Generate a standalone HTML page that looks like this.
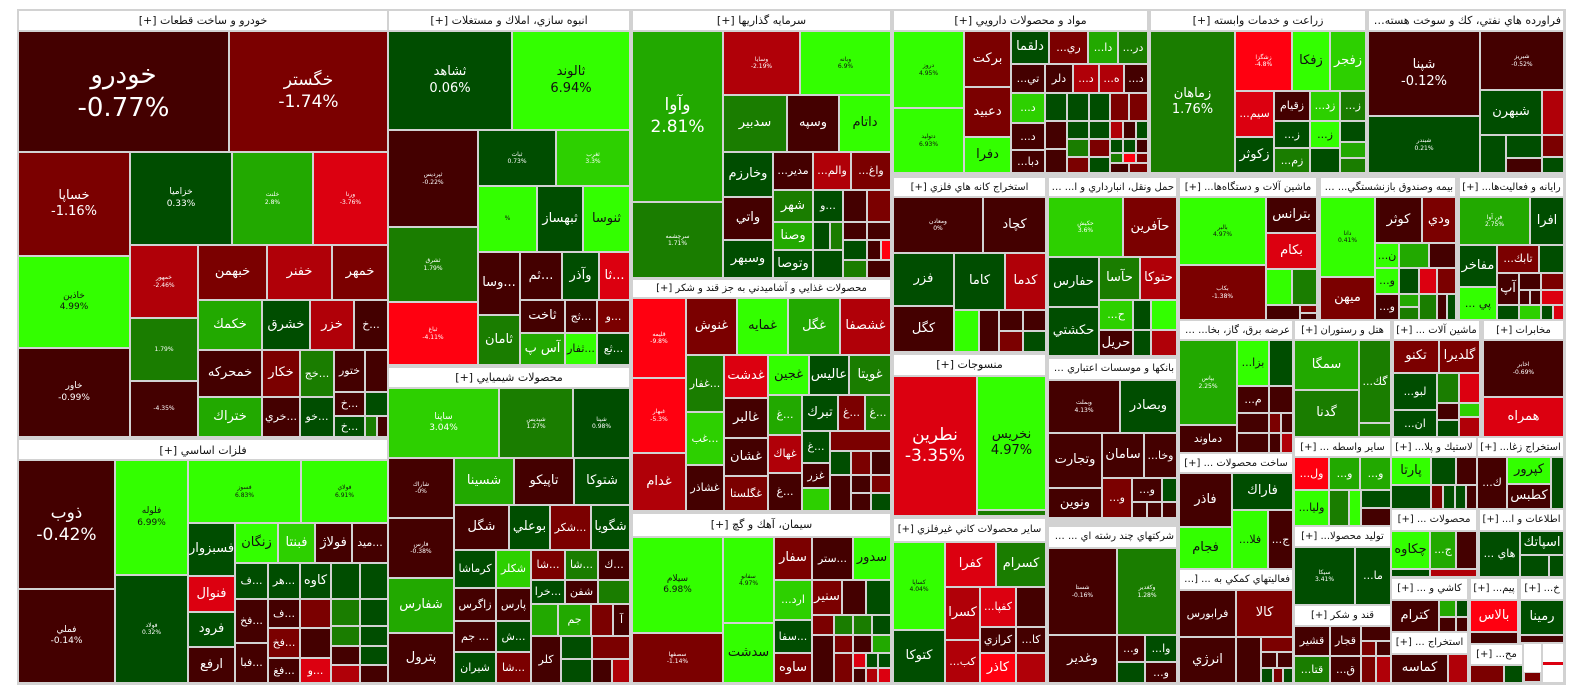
<!DOCTYPE html>
<html><head><meta charset="utf-8">
<style>
body{margin:0;width:1584px;height:698px;background:#fff;position:relative;overflow:hidden;font-family:"DejaVu Sans","Liberation Sans",sans-serif}
#bg{position:absolute;left:17px;top:9px;width:1549px;height:676px;background:#d2d2d2}
.c{position:absolute;box-sizing:border-box;border:1px solid #d2d2d2;display:flex;align-items:center;justify-content:center;text-align:center;color:#fff;font-size:13px;line-height:1.25;overflow:hidden;white-space:nowrap}
.h{background:#fff;color:#111;font-size:11px;direction:rtl;display:block;line-height:19px;text-overflow:ellipsis;padding:0 2px}
.n{font-size:10px}
.s{font-size:6px}.t{font-size:9px}.m{font-size:11px}.b{font-size:17px}.x{font-size:26px}
.d{background:#440000}.r1{background:#7b0000}.r2{background:#b00008}.r3{background:#dc0010}.r4{background:#ff0010}
.g1{background:#004d00}.g2{background:#1a7d00}.g3{background:#22a900}.g4{background:#2dd000}.g5{background:#33ff00;color:#111}
.w{background:#fff}
</style></head><body>
<div id="bg"></div>

<!-- headers -->
<div class="c h" style="left:18px;top:10px;width:370px;height:21px">خودرو و ساخت قطعات [+]</div>
<div class="c h" style="left:388px;top:10px;width:242px;height:21px">انبوه سازي، املاك و مستغلات [+]</div>
<div class="c h" style="left:632px;top:10px;width:259px;height:21px">سرمايه گذاريها [+]</div>
<div class="c h" style="left:893px;top:10px;width:255px;height:21px">مواد و محصولات دارويي [+]</div>
<div class="c h" style="left:1150px;top:10px;width:216px;height:21px">زراعت و خدمات وابسته [+]</div>
<div class="c h" style="left:1368px;top:10px;width:196px;height:21px">فراورده هاي نفتي، كك و سوخت هسته اي [+]</div>
<div class="c h" style="left:18px;top:439px;width:370px;height:21px;line-height:21px">فلزات اساسي [+]</div>
<div class="c h" style="left:388px;top:367px;width:242px;height:21px">محصولات شيميايي [+]</div>
<div class="c h n" style="left:632px;top:279px;width:259px;height:19px;line-height:17px">محصولات غذايي و آشاميدني به جز قند و شكر [+]</div>
<div class="c h" style="left:632px;top:513px;width:259px;height:24px;line-height:22px">سيمان، آهك و گچ [+]</div>
<div class="c h n" style="left:893px;top:177px;width:153px;height:20px">استخراج كانه هاي فلزي [+]</div>
<div class="c h" style="left:893px;top:354px;width:153px;height:22px;line-height:20px">منسوجات [+]</div>
<div class="c h n" style="left:893px;top:518px;width:153px;height:24px;line-height:22px">ساير محصولات كاني غيرفلزي [+]</div>
<div class="c h n" style="left:1048px;top:177px;width:129px;height:20px">حمل ونقل، انبارداري و ا... [+]</div>
<div class="c h n" style="left:1048px;top:358px;width:129px;height:22px;line-height:20px">بانكها و موسسات اعتباري [+]</div>
<div class="c h n" style="left:1048px;top:526px;width:129px;height:22px;line-height:20px">شركتهاي چند رشته اي ... [+]</div>
<div class="c h n" style="left:1179px;top:177px;width:138px;height:20px">ماشين آلات و دستگاه‌ها... [+]</div>
<div class="c h n" style="left:1320px;top:177px;width:136px;height:20px">بيمه وصندوق بازنشستگي... [+]</div>
<div class="c h n" style="left:1459px;top:177px;width:105px;height:20px">رايانه و فعاليت‌ها... [+]</div>
<div class="c h n" style="left:1179px;top:320px;width:114px;height:20px">عرضه برق، گاز، بخا... [+]</div>
<div class="c h n" style="left:1179px;top:453px;width:114px;height:20px">ساخت محصولات ... [+]</div>
<div class="c h n" style="left:1179px;top:569px;width:114px;height:21px">فعاليتهاي كمكي به ... [+]</div>
<div class="c h n" style="left:1294px;top:320px;width:97px;height:20px">هتل و رستوران [+]</div>
<div class="c h n" style="left:1294px;top:437px;width:97px;height:20px">ساير واسطه ... [+]</div>
<div class="c h n" style="left:1294px;top:526px;width:97px;height:21px">توليد محصولا... [+]</div>
<div class="c h n" style="left:1294px;top:605px;width:97px;height:21px">قند و شكر [+]</div>
<div class="c h n" style="left:1393px;top:320px;width:87px;height:20px">ماشين آلات ... [+]</div>
<div class="c h n" style="left:1483px;top:320px;width:81px;height:20px">مخابرات [+]</div>
<div class="c h n" style="left:1391px;top:437px;width:86px;height:20px">لاستيك و پلا... [+]</div>
<div class="c h n" style="left:1477px;top:437px;width:87px;height:20px">استخراج زغا... [+]</div>
<div class="c h n" style="left:1391px;top:509px;width:86px;height:22px;line-height:20px">محصولات ... [+]</div>
<div class="c h n" style="left:1479px;top:509px;width:85px;height:22px;line-height:20px">اطلاعات و ا... [+]</div>
<div class="c h n" style="left:1391px;top:578px;width:77px;height:22px;line-height:20px">كاشي و ... [+]</div>
<div class="c h n" style="left:1470px;top:578px;width:48px;height:22px;line-height:20px">پيم... [+]</div>
<div class="c h n" style="left:1520px;top:578px;width:44px;height:22px;line-height:20px">خ... [+]</div>
<div class="c h n" style="left:1391px;top:632px;width:77px;height:22px;line-height:20px">استخراج ... [+]</div>
<div class="c h n" style="left:1470px;top:644px;width:53px;height:21px">مح... [+]</div>

<!-- خودرو -->
<div class="c d x" style="left:18px;top:31px;width:211px;height:121px">خودرو<br>-0.77%</div>
<div class="c r1 b" style="left:229px;top:31px;width:159px;height:121px">خگستر<br>-1.74%</div>
<div class="c r1" style="left:18px;top:152px;width:112px;height:104px">خساپا<br>-1.16%</div>
<div class="c g5 t" style="left:18px;top:256px;width:112px;height:92px">خاذين<br>4.99%</div>
<div class="c d t" style="left:18px;top:348px;width:112px;height:89px">خاور<br>-0.99%</div>
<div class="c g1 t" style="left:130px;top:152px;width:102px;height:93px">خزاميا<br>0.33%</div>
<div class="c g3 s" style="left:232px;top:152px;width:81px;height:93px">خلنت<br>2.8%</div>
<div class="c r3 s" style="left:313px;top:152px;width:75px;height:93px">ورنا<br>-3.76%</div>
<div class="c r2 s" style="left:130px;top:245px;width:68px;height:73px">خمهور<br>-2.46%</div>
<div class="c g2 s" style="left:130px;top:318px;width:68px;height:63px">1.79%</div>
<div class="c d s" style="left:130px;top:381px;width:68px;height:56px">-4.35%</div>
<div class="c r1" style="left:198px;top:245px;width:69px;height:55px">خبهمن</div>
<div class="c r2" style="left:267px;top:245px;width:65px;height:55px">خفنر</div>
<div class="c r1" style="left:332px;top:245px;width:56px;height:55px">خمهر</div>
<div class="c g3" style="left:198px;top:300px;width:64px;height:50px">خكمك</div>
<div class="c g1" style="left:262px;top:300px;width:48px;height:50px">خشرق</div>
<div class="c r2" style="left:310px;top:300px;width:44px;height:50px">خزر</div>
<div class="c d m" style="left:354px;top:300px;width:34px;height:50px">خ...</div>
<div class="c d" style="left:198px;top:350px;width:64px;height:47px">خمحركه</div>
<div class="c g3" style="left:198px;top:397px;width:64px;height:40px">ختراك</div>
<div class="c r1" style="left:262px;top:350px;width:38px;height:47px">خكار</div>
<div class="c d m" style="left:262px;top:397px;width:38px;height:40px">خري...</div>
<div class="c g2 m" style="left:300px;top:350px;width:34px;height:47px">خج...</div>
<div class="c g1 m" style="left:300px;top:397px;width:34px;height:40px">خو...</div>
<div class="c d m" style="left:334px;top:350px;width:31px;height:42px">ختور</div>
<div class="c d m" style="left:334px;top:392px;width:31px;height:24px">خ...</div>
<div class="c g1 m" style="left:334px;top:416px;width:31px;height:21px">خ...</div>
<div class="c d" style="left:365px;top:350px;width:23px;height:42px"></div>
<div class="c g1" style="left:365px;top:392px;width:23px;height:24px"></div>
<div class="c g2" style="left:365px;top:416px;width:12px;height:21px"></div>
<div class="c d" style="left:377px;top:416px;width:11px;height:21px"></div>

<!-- فلزات -->
<div class="c d b" style="left:18px;top:460px;width:97px;height:129px">ذوب<br>-0.42%</div>
<div class="c d t" style="left:18px;top:589px;width:97px;height:94px">فملي<br>-0.14%</div>
<div class="c g5 t" style="left:115px;top:460px;width:73px;height:115px">فلوله<br>6.99%</div>
<div class="c g1 s" style="left:115px;top:575px;width:73px;height:108px">فولاد<br>0.32%</div>
<div class="c g5 s" style="left:188px;top:460px;width:113px;height:63px">فسوز<br>6.83%</div>
<div class="c g5 s" style="left:301px;top:460px;width:87px;height:63px">فولاي<br>6.91%</div>
<div class="c g1" style="left:188px;top:523px;width:47px;height:53px">فسبزوار</div>
<div class="c g5" style="left:235px;top:523px;width:43px;height:40px">زنگان</div>
<div class="c g4" style="left:278px;top:523px;width:37px;height:40px">فبنتا</div>
<div class="c d" style="left:315px;top:523px;width:37px;height:40px">فولاژ</div>
<div class="c d m" style="left:352px;top:523px;width:36px;height:40px">ميد...</div>
<div class="c r3" style="left:188px;top:576px;width:47px;height:36px">فنوال</div>
<div class="c g1" style="left:188px;top:612px;width:47px;height:35px">فرود</div>
<div class="c d" style="left:188px;top:647px;width:47px;height:36px">ارفع</div>
<div class="c g1 m" style="left:235px;top:563px;width:33px;height:36px">ف...</div>
<div class="c g1 m" style="left:268px;top:563px;width:32px;height:36px">هر...</div>
<div class="c g1" style="left:300px;top:563px;width:31px;height:36px">كاوه</div>
<div class="c g1" style="left:331px;top:563px;width:29px;height:36px"></div>
<div class="c g1" style="left:360px;top:563px;width:28px;height:36px"></div>
<div class="c d m" style="left:235px;top:599px;width:33px;height:44px">فخ...</div>
<div class="c d m" style="left:235px;top:643px;width:33px;height:40px">فبا...</div>
<div class="c d m" style="left:268px;top:599px;width:32px;height:29px">ف...</div>
<div class="c r1 m" style="left:268px;top:628px;width:32px;height:30px">فخ...</div>
<div class="c d m" style="left:268px;top:658px;width:32px;height:25px">فغ...</div>
<div class="c r1" style="left:300px;top:599px;width:31px;height:29px"></div>
<div class="c d" style="left:300px;top:628px;width:31px;height:30px"></div>
<div class="c r3 m" style="left:300px;top:658px;width:31px;height:25px">و...</div>
<div class="c g2" style="left:331px;top:599px;width:29px;height:27px"></div>
<div class="c g2" style="left:331px;top:626px;width:29px;height:20px"></div>
<div class="c d" style="left:331px;top:646px;width:29px;height:19px"></div>
<div class="c r2" style="left:331px;top:665px;width:29px;height:18px"></div>
<div class="c g1" style="left:360px;top:599px;width:28px;height:27px"></div>
<div class="c g1" style="left:360px;top:626px;width:28px;height:20px"></div>
<div class="c g1" style="left:360px;top:646px;width:28px;height:19px"></div>
<div class="c d" style="left:360px;top:665px;width:28px;height:18px"></div>

<!-- انبوه -->
<div class="c g1" style="left:388px;top:31px;width:124px;height:99px">ثشاهد<br>0.06%</div>
<div class="c g5" style="left:512px;top:31px;width:118px;height:99px">ثالوند<br>6.94%</div>
<div class="c d s" style="left:388px;top:130px;width:90px;height:97px">ثپرديس<br>-0.22%</div>
<div class="c g2 s" style="left:388px;top:227px;width:90px;height:75px">ثشرق<br>1.79%</div>
<div class="c r4 s" style="left:388px;top:302px;width:90px;height:63px">ثباغ<br>-4.11%</div>
<div class="c g1 s" style="left:478px;top:130px;width:78px;height:56px">ثبات<br>0.73%</div>
<div class="c g4 s" style="left:556px;top:130px;width:74px;height:56px">ثغرب<br>3.3%</div>
<div class="c g5 s" style="left:478px;top:186px;width:59px;height:66px">%</div>
<div class="c g1" style="left:537px;top:186px;width:46px;height:66px">ثبهساز</div>
<div class="c g5" style="left:583px;top:186px;width:47px;height:66px">ثنوسا</div>
<div class="c d" style="left:478px;top:252px;width:42px;height:63px">وسا...</div>
<div class="c d" style="left:520px;top:252px;width:42px;height:48px">ثم...</div>
<div class="c g1" style="left:562px;top:252px;width:37px;height:48px">وآذر</div>
<div class="c r3" style="left:599px;top:252px;width:31px;height:48px">ثا...</div>
<div class="c g2" style="left:478px;top:315px;width:42px;height:50px">ثامان</div>
<div class="c d" style="left:520px;top:300px;width:45px;height:33px">ثاخت</div>
<div class="c d m" style="left:565px;top:300px;width:32px;height:33px">ثج...</div>
<div class="c r1 m" style="left:597px;top:300px;width:33px;height:33px">و...</div>
<div class="c g3" style="left:520px;top:333px;width:45px;height:32px">آس پ</div>
<div class="c g5 m" style="left:565px;top:333px;width:32px;height:32px">ثفار...</div>
<div class="c g1 m" style="left:597px;top:333px;width:33px;height:32px">ثع...</div>

<!-- شيميايي -->
<div class="c g4 t" style="left:388px;top:388px;width:111px;height:70px">ساپنا<br>3.04%</div>
<div class="c g2 s" style="left:499px;top:388px;width:74px;height:70px">شپديس<br>1.27%</div>
<div class="c g1 s" style="left:573px;top:388px;width:57px;height:70px">شپنا<br>0.98%</div>
<div class="c d s" style="left:388px;top:458px;width:66px;height:60px">شاراك<br>-0%</div>
<div class="c d s" style="left:388px;top:518px;width:66px;height:60px">فارس<br>-0.38%</div>
<div class="c g3" style="left:388px;top:578px;width:66px;height:55px">شفارس</div>
<div class="c d" style="left:388px;top:633px;width:66px;height:50px">پترول</div>
<div class="c g3" style="left:454px;top:458px;width:60px;height:47px">شسينا</div>
<div class="c d" style="left:514px;top:458px;width:60px;height:47px">تاپيكو</div>
<div class="c g1" style="left:574px;top:458px;width:56px;height:47px">شتوكا</div>
<div class="c d" style="left:454px;top:505px;width:55px;height:45px">شگل</div>
<div class="c g1" style="left:509px;top:505px;width:41px;height:45px">بوعلي</div>
<div class="c r1 m" style="left:550px;top:505px;width:41px;height:45px">شكر...</div>
<div class="c g1" style="left:591px;top:505px;width:39px;height:45px">شگويا</div>
<div class="c g1 m" style="left:454px;top:550px;width:42px;height:38px">كرماشا</div>
<div class="c g4 m" style="left:496px;top:550px;width:35px;height:38px">شكلر</div>
<div class="c r1 m" style="left:531px;top:550px;width:34px;height:30px">شا...</div>
<div class="c g2 m" style="left:565px;top:550px;width:33px;height:30px">شا...</div>
<div class="c d m" style="left:598px;top:550px;width:32px;height:30px">ك...</div>
<div class="c d m" style="left:454px;top:588px;width:42px;height:33px">زاگرس</div>
<div class="c d m" style="left:496px;top:588px;width:35px;height:33px">پارس</div>
<div class="c d m" style="left:454px;top:621px;width:42px;height:31px">جم ...</div>
<div class="c g1 m" style="left:496px;top:621px;width:35px;height:31px">ش...</div>
<div class="c g1 m" style="left:454px;top:652px;width:42px;height:31px">شيران</div>
<div class="c r1 m" style="left:496px;top:652px;width:35px;height:31px">شا...</div>
<div class="c g1 m" style="left:531px;top:580px;width:34px;height:24px">خرا...</div>
<div class="c d m" style="left:565px;top:580px;width:33px;height:24px">شفن</div>
<div class="c g2" style="left:598px;top:580px;width:32px;height:24px"></div>
<div class="c g3" style="left:531px;top:604px;width:27px;height:32px"></div>
<div class="c g3 m" style="left:558px;top:604px;width:33px;height:32px">جم</div>
<div class="c r1" style="left:591px;top:604px;width:22px;height:32px"></div>
<div class="c d m" style="left:613px;top:604px;width:17px;height:32px">آ</div>
<div class="c d m" style="left:531px;top:636px;width:30px;height:47px">كلر</div>
<div class="c g1" style="left:561px;top:636px;width:31px;height:23px"></div>
<div class="c r1" style="left:592px;top:636px;width:38px;height:23px"></div>
<div class="c g1" style="left:561px;top:659px;width:31px;height:24px"></div>
<div class="c d" style="left:592px;top:659px;width:20px;height:24px"></div>
<div class="c r2" style="left:612px;top:659px;width:18px;height:24px"></div>

<!-- سرمايه -->
<div class="c g3 b" style="left:632px;top:31px;width:91px;height:171px">وآوا<br>2.81%</div>
<div class="c g2 s" style="left:632px;top:202px;width:91px;height:76px">سرچشمه<br>1.71%</div>
<div class="c r2 s" style="left:723px;top:31px;width:77px;height:64px">وسايا<br>-2.19%</div>
<div class="c g5 s" style="left:800px;top:31px;width:91px;height:64px">وبانه<br>6.9%</div>
<div class="c g2" style="left:723px;top:95px;width:64px;height:57px">سدبير</div>
<div class="c d" style="left:787px;top:95px;width:52px;height:57px">وسپه</div>
<div class="c g5" style="left:839px;top:95px;width:52px;height:57px">داتام</div>
<div class="c g1" style="left:723px;top:152px;width:50px;height:45px">وخارزم</div>
<div class="c d" style="left:723px;top:197px;width:50px;height:43px">واتي</div>
<div class="c g1" style="left:723px;top:240px;width:50px;height:38px">وسبهر</div>
<div class="c d m" style="left:773px;top:152px;width:40px;height:38px">...مدير</div>
<div class="c r2 m" style="left:813px;top:152px;width:38px;height:38px">...والم</div>
<div class="c r1 m" style="left:851px;top:152px;width:40px;height:38px">...واغ</div>
<div class="c g2" style="left:773px;top:190px;width:40px;height:32px">شهر</div>
<div class="c g1 m" style="left:813px;top:190px;width:30px;height:32px">و...</div>
<div class="c d" style="left:843px;top:190px;width:24px;height:32px"></div>
<div class="c r1" style="left:867px;top:190px;width:24px;height:32px"></div>
<div class="c g3" style="left:773px;top:222px;width:40px;height:28px">وصنا</div>
<div class="c g1" style="left:773px;top:250px;width:40px;height:28px">وتوصا</div>
<div class="c g1" style="left:813px;top:222px;width:17px;height:28px"></div>
<div class="c g2" style="left:830px;top:222px;width:13px;height:28px"></div>
<div class="c d" style="left:843px;top:222px;width:24px;height:18px"></div>
<div class="c d" style="left:867px;top:222px;width:24px;height:18px"></div>
<div class="c g1" style="left:843px;top:240px;width:24px;height:20px"></div>
<div class="c d" style="left:867px;top:240px;width:14px;height:20px"></div>
<div class="c r4" style="left:881px;top:240px;width:10px;height:20px"></div>
<div class="c g1" style="left:813px;top:250px;width:30px;height:28px"></div>
<div class="c g2" style="left:843px;top:260px;width:24px;height:18px"></div>
<div class="c d" style="left:867px;top:260px;width:24px;height:18px"></div>

<!-- غذايي -->
<div class="c r4 s" style="left:632px;top:298px;width:54px;height:80px">قليمه<br>-9.8%</div>
<div class="c r4 s" style="left:632px;top:378px;width:54px;height:75px">غبهار<br>-5.3%</div>
<div class="c r2" style="left:632px;top:453px;width:54px;height:58px">غدام</div>
<div class="c r1" style="left:686px;top:298px;width:51px;height:57px">غنوش</div>
<div class="c g5" style="left:737px;top:298px;width:51px;height:57px">غمايه</div>
<div class="c g3" style="left:788px;top:298px;width:52px;height:57px">غگل</div>
<div class="c r2" style="left:840px;top:298px;width:51px;height:57px">غشصفا</div>
<div class="c g2 m" style="left:686px;top:355px;width:38px;height:57px">غفار...</div>
<div class="c g4 m" style="left:686px;top:412px;width:38px;height:53px">غب...</div>
<div class="c d m" style="left:686px;top:465px;width:38px;height:46px">غشاذر</div>
<div class="c r3" style="left:724px;top:355px;width:44px;height:43px">غدشت</div>
<div class="c d" style="left:724px;top:398px;width:44px;height:40px">غالبر</div>
<div class="c d" style="left:724px;top:438px;width:44px;height:38px">غشان</div>
<div class="c r1 m" style="left:724px;top:476px;width:44px;height:35px">غگلستا</div>
<div class="c g5" style="left:768px;top:355px;width:41px;height:40px">غجين</div>
<div class="c g1" style="left:809px;top:355px;width:40px;height:40px">عاليس</div>
<div class="c g2" style="left:849px;top:355px;width:42px;height:40px">غويتا</div>
<div class="c g3 m" style="left:768px;top:395px;width:34px;height:40px">غ...</div>
<div class="c r2 m" style="left:768px;top:435px;width:34px;height:38px">غهاك</div>
<div class="c d m" style="left:768px;top:473px;width:34px;height:38px">غ...</div>
<div class="c g1" style="left:802px;top:395px;width:36px;height:36px">تبرك</div>
<div class="c r1 m" style="left:838px;top:395px;width:27px;height:36px">غ...</div>
<div class="c g2 m" style="left:865px;top:395px;width:26px;height:36px">غ...</div>
<div class="c g1 m" style="left:802px;top:431px;width:28px;height:32px">غ...</div>
<div class="c r1" style="left:830px;top:431px;width:61px;height:20px"></div>
<div class="c g1" style="left:830px;top:451px;width:21px;height:24px"></div>
<div class="c r1" style="left:851px;top:451px;width:20px;height:24px"></div>
<div class="c d" style="left:871px;top:451px;width:20px;height:24px"></div>
<div class="c d m" style="left:802px;top:463px;width:28px;height:25px">غزر</div>
<div class="c g4" style="left:802px;top:488px;width:28px;height:23px"></div>
<div class="c d" style="left:830px;top:475px;width:21px;height:36px"></div>
<div class="c d" style="left:851px;top:475px;width:20px;height:18px"></div>
<div class="c r1" style="left:871px;top:475px;width:20px;height:18px"></div>
<div class="c d" style="left:851px;top:493px;width:20px;height:18px"></div>
<div class="c g1" style="left:871px;top:493px;width:20px;height:18px"></div>

<!-- سيمان -->
<div class="c g5 t" style="left:632px;top:537px;width:91px;height:96px">سيلام<br>6.98%</div>
<div class="c r1 s" style="left:632px;top:633px;width:91px;height:50px">سصفها<br>-1.14%</div>
<div class="c g5 s" style="left:723px;top:537px;width:51px;height:86px">سفانو<br>4.97%</div>
<div class="c g5" style="left:723px;top:623px;width:51px;height:60px">سدشت</div>
<div class="c r1" style="left:774px;top:537px;width:38px;height:43px">سفار</div>
<div class="c d m" style="left:812px;top:537px;width:41px;height:43px">ستر...</div>
<div class="c g5" style="left:853px;top:537px;width:38px;height:43px">سدور</div>
<div class="c g4 m" style="left:774px;top:580px;width:38px;height:40px">...ارد</div>
<div class="c r1" style="left:812px;top:580px;width:30px;height:35px">سنير</div>
<div class="c d" style="left:842px;top:580px;width:24px;height:35px"></div>
<div class="c g1" style="left:866px;top:580px;width:25px;height:35px"></div>
<div class="c g1 m" style="left:774px;top:620px;width:38px;height:33px">سفا...</div>
<div class="c r1" style="left:774px;top:653px;width:38px;height:30px">ساوه</div>
<div class="c r1" style="left:812px;top:615px;width:22px;height:20px"></div>
<div class="c g2" style="left:834px;top:615px;width:19px;height:20px"></div>
<div class="c g2" style="left:853px;top:615px;width:19px;height:20px"></div>
<div class="c g1" style="left:872px;top:615px;width:19px;height:20px"></div>
<div class="c d" style="left:812px;top:635px;width:22px;height:48px"></div>
<div class="c r1" style="left:834px;top:635px;width:19px;height:18px"></div>
<div class="c d" style="left:853px;top:635px;width:19px;height:18px"></div>
<div class="c g3" style="left:872px;top:635px;width:19px;height:18px"></div>
<div class="c r1" style="left:834px;top:653px;width:19px;height:30px"></div>
<div class="c r3" style="left:853px;top:653px;width:13px;height:15px"></div>
<div class="c g1" style="left:866px;top:653px;width:12px;height:15px"></div>
<div class="c g1" style="left:878px;top:653px;width:13px;height:15px"></div>
<div class="c d" style="left:853px;top:668px;width:13px;height:15px"></div>
<div class="c r2" style="left:866px;top:668px;width:12px;height:15px"></div>
<div class="c r3" style="left:878px;top:668px;width:13px;height:15px"></div>

<!-- دارويي -->
<div class="c g5 s" style="left:893px;top:31px;width:71px;height:77px">دروز<br>4.95%</div>
<div class="c g5 s" style="left:893px;top:108px;width:71px;height:65px">دتوليد<br>6.93%</div>
<div class="c r1" style="left:964px;top:31px;width:47px;height:56px">بركت</div>
<div class="c r1" style="left:964px;top:87px;width:47px;height:50px">دعبيد</div>
<div class="c g5" style="left:964px;top:137px;width:47px;height:36px">دفرا</div>
<div class="c g1" style="left:1011px;top:31px;width:38px;height:33px">دلقما</div>
<div class="c r1 m" style="left:1049px;top:31px;width:39px;height:33px">...ري</div>
<div class="c g3 m" style="left:1088px;top:31px;width:30px;height:33px">...دا</div>
<div class="c g2 m" style="left:1118px;top:31px;width:30px;height:33px">...در</div>
<div class="c d m" style="left:1011px;top:64px;width:34px;height:29px">...تي</div>
<div class="c d m" style="left:1045px;top:64px;width:28px;height:29px">دلر</div>
<div class="c r2 m" style="left:1073px;top:64px;width:26px;height:29px">...د</div>
<div class="c r2 m" style="left:1099px;top:64px;width:25px;height:29px">...ه</div>
<div class="c d m" style="left:1124px;top:64px;width:24px;height:29px">...د</div>
<div class="c g4 m" style="left:1011px;top:93px;width:34px;height:30px">...د</div>
<div class="c d m" style="left:1011px;top:123px;width:34px;height:27px">...د</div>
<div class="c d m" style="left:1011px;top:150px;width:34px;height:23px">...دبا</div>
<div class="c g1" style="left:1045px;top:93px;width:22px;height:28px"></div>
<div class="c g1" style="left:1067px;top:93px;width:22px;height:28px"></div>
<div class="c g1" style="left:1089px;top:93px;width:21px;height:28px"></div>
<div class="c r1" style="left:1110px;top:93px;width:19px;height:28px"></div>
<div class="c r1" style="left:1129px;top:93px;width:19px;height:28px"></div>
<div class="c d" style="left:1045px;top:121px;width:22px;height:28px"></div>
<div class="c d" style="left:1045px;top:149px;width:22px;height:24px"></div>
<div class="c g1" style="left:1067px;top:121px;width:22px;height:18px"></div>
<div class="c g2" style="left:1067px;top:139px;width:22px;height:18px"></div>
<div class="c r1" style="left:1067px;top:157px;width:22px;height:16px"></div>
<div class="c g1" style="left:1089px;top:121px;width:21px;height:18px"></div>
<div class="c r1" style="left:1089px;top:139px;width:21px;height:18px"></div>
<div class="c g1" style="left:1089px;top:157px;width:21px;height:16px"></div>
<div class="c r2" style="left:1110px;top:121px;width:13px;height:18px"></div>
<div class="c d" style="left:1123px;top:121px;width:13px;height:18px"></div>
<div class="c g1" style="left:1136px;top:121px;width:12px;height:18px"></div>
<div class="c g1" style="left:1110px;top:139px;width:13px;height:14px"></div>
<div class="c g1" style="left:1123px;top:139px;width:13px;height:14px"></div>
<div class="c d" style="left:1136px;top:139px;width:12px;height:14px"></div>
<div class="c g2" style="left:1110px;top:153px;width:13px;height:10px"></div>
<div class="c r4" style="left:1123px;top:153px;width:13px;height:10px"></div>
<div class="c r1" style="left:1136px;top:153px;width:12px;height:10px"></div>
<div class="c d" style="left:1110px;top:163px;width:19px;height:10px"></div>
<div class="c r1" style="left:1129px;top:163px;width:19px;height:10px"></div>

<!-- زراعت -->
<div class="c g2" style="left:1150px;top:31px;width:85px;height:142px">زماهان<br>1.76%</div>
<div class="c r4 s" style="left:1235px;top:31px;width:57px;height:60px">زشگزا<br>-4.8%</div>
<div class="c g5" style="left:1292px;top:31px;width:38px;height:60px">زفكا</div>
<div class="c g4" style="left:1330px;top:31px;width:36px;height:60px">زفجر</div>
<div class="c r3 m" style="left:1235px;top:91px;width:39px;height:46px">...سيم</div>
<div class="c g1" style="left:1235px;top:137px;width:39px;height:36px">زكوثر</div>
<div class="c d m" style="left:1274px;top:91px;width:36px;height:30px">زقيام</div>
<div class="c g4 m" style="left:1310px;top:91px;width:30px;height:30px">...زد</div>
<div class="c g2 m" style="left:1340px;top:91px;width:26px;height:30px">...ز</div>
<div class="c g1 m" style="left:1274px;top:121px;width:36px;height:27px">...ز</div>
<div class="c g5 m" style="left:1310px;top:121px;width:30px;height:27px">...ز</div>
<div class="c g1" style="left:1340px;top:121px;width:26px;height:21px"></div>
<div class="c g2 m" style="left:1274px;top:148px;width:36px;height:25px">...زم</div>
<div class="c g1" style="left:1310px;top:148px;width:30px;height:25px"></div>
<div class="c g3" style="left:1340px;top:142px;width:26px;height:16px"></div>
<div class="c g2" style="left:1340px;top:158px;width:26px;height:15px"></div>

<!-- فراورده -->
<div class="c d" style="left:1368px;top:31px;width:112px;height:85px">شپنا<br>-0.12%</div>
<div class="c g1 s" style="left:1368px;top:116px;width:112px;height:57px">شبندر<br>0.21%</div>
<div class="c d s" style="left:1480px;top:31px;width:84px;height:59px">شبريز<br>-0.52%</div>
<div class="c g1" style="left:1480px;top:90px;width:62px;height:45px">شبهرن</div>
<div class="c r2" style="left:1542px;top:90px;width:22px;height:45px"></div>
<div class="c g1" style="left:1480px;top:135px;width:26px;height:38px"></div>
<div class="c g1" style="left:1506px;top:135px;width:36px;height:23px"></div>
<div class="c d" style="left:1506px;top:158px;width:36px;height:15px"></div>
<div class="c r1" style="left:1542px;top:135px;width:22px;height:22px"></div>
<div class="c g1" style="left:1542px;top:157px;width:22px;height:16px"></div>

<!-- استخراج كانه -->
<div class="c d s" style="left:893px;top:197px;width:90px;height:56px">ومعادن<br>0%</div>
<div class="c d" style="left:983px;top:197px;width:63px;height:56px">كچاد</div>
<div class="c g1" style="left:893px;top:253px;width:61px;height:53px">فزر</div>
<div class="c g1" style="left:954px;top:253px;width:51px;height:57px">كاما</div>
<div class="c r2" style="left:1005px;top:253px;width:41px;height:57px">كدما</div>
<div class="c d" style="left:893px;top:306px;width:61px;height:46px">كگل</div>
<div class="c g5" style="left:954px;top:310px;width:25px;height:42px"></div>
<div class="c d" style="left:979px;top:310px;width:20px;height:42px"></div>
<div class="c d" style="left:999px;top:310px;width:24px;height:21px"></div>
<div class="c d" style="left:1023px;top:310px;width:23px;height:21px"></div>
<div class="c r1" style="left:999px;top:331px;width:24px;height:21px"></div>
<div class="c g1" style="left:1023px;top:331px;width:23px;height:21px"></div>

<!-- حمل -->
<div class="c g4 s" style="left:1048px;top:197px;width:75px;height:60px">حكيش<br>3.6%</div>
<div class="c r1" style="left:1123px;top:197px;width:54px;height:60px">حآفرين</div>
<div class="c g1" style="left:1048px;top:257px;width:51px;height:50px">حفارس</div>
<div class="c g1" style="left:1048px;top:307px;width:51px;height:49px">حكشتي</div>
<div class="c g2" style="left:1099px;top:257px;width:41px;height:43px">حآسا</div>
<div class="c r2" style="left:1140px;top:257px;width:37px;height:43px">حتوكا</div>
<div class="c g4 m" style="left:1099px;top:300px;width:34px;height:30px">...ح</div>
<div class="c g1" style="left:1133px;top:300px;width:18px;height:30px"></div>
<div class="c g5" style="left:1151px;top:300px;width:26px;height:30px"></div>
<div class="c d" style="left:1099px;top:330px;width:34px;height:26px">حريل</div>
<div class="c g1" style="left:1133px;top:330px;width:18px;height:26px"></div>
<div class="c r2" style="left:1151px;top:330px;width:26px;height:26px"></div>

<!-- ماشين آلات -->
<div class="c g5 s" style="left:1179px;top:197px;width:87px;height:68px">بالبر<br>4.97%</div>
<div class="c d" style="left:1266px;top:197px;width:51px;height:36px">بترانس</div>
<div class="c r3" style="left:1266px;top:233px;width:51px;height:36px">بكام</div>
<div class="c r1 s" style="left:1179px;top:265px;width:87px;height:55px">بكاب<br>-1.38%</div>
<div class="c g5" style="left:1266px;top:269px;width:26px;height:36px"></div>
<div class="c g2" style="left:1292px;top:269px;width:25px;height:36px"></div>
<div class="c d" style="left:1266px;top:305px;width:34px;height:15px"></div>
<div class="c r1" style="left:1300px;top:305px;width:17px;height:8px"></div>
<div class="c d" style="left:1300px;top:313px;width:17px;height:7px"></div>

<!-- بيمه -->
<div class="c g5 s" style="left:1320px;top:197px;width:55px;height:80px">دانا<br>0.41%</div>
<div class="c r1" style="left:1320px;top:277px;width:55px;height:43px">ميهن</div>
<div class="c d" style="left:1375px;top:197px;width:47px;height:46px">كوثر</div>
<div class="c r1" style="left:1422px;top:197px;width:34px;height:46px">ودي</div>
<div class="c g5 m" style="left:1375px;top:243px;width:24px;height:25px">...ن</div>
<div class="c g3" style="left:1399px;top:243px;width:30px;height:25px"></div>
<div class="c d" style="left:1429px;top:243px;width:27px;height:25px"></div>
<div class="c g5 m" style="left:1375px;top:268px;width:24px;height:26px">...و</div>
<div class="c g1" style="left:1399px;top:268px;width:20px;height:26px"></div>
<div class="c r3" style="left:1419px;top:268px;width:18px;height:26px"></div>
<div class="c r1" style="left:1437px;top:268px;width:19px;height:26px"></div>
<div class="c d m" style="left:1375px;top:294px;width:24px;height:26px">...و</div>
<div class="c g3" style="left:1399px;top:294px;width:20px;height:13px"></div>
<div class="c g2" style="left:1399px;top:307px;width:20px;height:13px"></div>
<div class="c g2" style="left:1419px;top:294px;width:18px;height:26px"></div>
<div class="c d" style="left:1437px;top:294px;width:10px;height:26px"></div>
<div class="c g1" style="left:1447px;top:294px;width:9px;height:26px"></div>

<!-- رايانه -->
<div class="c g3 s" style="left:1459px;top:197px;width:71px;height:48px">فن آوا<br>2.75%</div>
<div class="c g1" style="left:1530px;top:197px;width:34px;height:48px">افرا</div>
<div class="c g1" style="left:1459px;top:245px;width:38px;height:42px">مفاخر</div>
<div class="c r1 m" style="left:1497px;top:245px;width:42px;height:28px">...تابك</div>
<div class="c g1" style="left:1539px;top:245px;width:25px;height:28px"></div>
<div class="c d" style="left:1497px;top:273px;width:22px;height:32px">آپ</div>
<div class="c d" style="left:1519px;top:273px;width:22px;height:17px"></div>
<div class="c r1" style="left:1541px;top:273px;width:23px;height:17px"></div>
<div class="c d" style="left:1519px;top:290px;width:11px;height:15px"></div>
<div class="c d" style="left:1530px;top:290px;width:11px;height:15px"></div>
<div class="c r3" style="left:1541px;top:290px;width:23px;height:15px"></div>
<div class="c g5 m" style="left:1459px;top:287px;width:38px;height:33px">... پي</div>
<div class="c g1" style="left:1497px;top:305px;width:22px;height:15px"></div>
<div class="c g4" style="left:1519px;top:305px;width:22px;height:15px"></div>
<div class="c g1" style="left:1541px;top:305px;width:12px;height:15px"></div>
<div class="c r3" style="left:1553px;top:305px;width:11px;height:15px"></div>

<!-- منسوجات -->
<div class="c r3 b" style="left:893px;top:376px;width:84px;height:140px">نطرين<br>-3.35%</div>
<div class="c g5" style="left:977px;top:376px;width:69px;height:134px">نخريس<br>4.97%</div>
<div class="c g2" style="left:977px;top:510px;width:69px;height:6px"></div>

<!-- ساير كاني -->
<div class="c g5 s" style="left:893px;top:542px;width:52px;height:88px">كساپا<br>4.04%</div>
<div class="c g1" style="left:893px;top:630px;width:52px;height:53px">كتوكا</div>
<div class="c r3" style="left:945px;top:542px;width:51px;height:45px">كفرا</div>
<div class="c g2" style="left:996px;top:542px;width:50px;height:45px">كسرام</div>
<div class="c r2" style="left:945px;top:587px;width:35px;height:53px">كسرا</div>
<div class="c r3 m" style="left:980px;top:587px;width:36px;height:40px">...كفپا</div>
<div class="c d" style="left:1016px;top:587px;width:30px;height:40px"></div>
<div class="c d m" style="left:980px;top:627px;width:36px;height:26px">كرازي</div>
<div class="c d m" style="left:1016px;top:627px;width:30px;height:26px">...كا</div>
<div class="c r2 m" style="left:945px;top:640px;width:35px;height:43px">...كب</div>
<div class="c r4" style="left:980px;top:653px;width:36px;height:30px">كاذر</div>
<div class="c r2" style="left:1016px;top:653px;width:30px;height:30px"></div>

<!-- بانكها -->
<div class="c d s" style="left:1048px;top:380px;width:72px;height:53px">وبملت<br>4.13%</div>
<div class="c g1" style="left:1120px;top:380px;width:57px;height:53px">وبصادر</div>
<div class="c d" style="left:1048px;top:433px;width:54px;height:55px">وتجارت</div>
<div class="c d" style="left:1102px;top:433px;width:42px;height:45px">سامان</div>
<div class="c d m" style="left:1144px;top:433px;width:33px;height:45px">...وخا</div>
<div class="c d" style="left:1048px;top:488px;width:54px;height:30px">ونوين</div>
<div class="c r1 m" style="left:1102px;top:478px;width:30px;height:40px">...و</div>
<div class="c d m" style="left:1132px;top:478px;width:30px;height:24px">...و</div>
<div class="c g1" style="left:1162px;top:478px;width:15px;height:24px"></div>
<div class="c d" style="left:1132px;top:502px;width:15px;height:16px"></div>
<div class="c d" style="left:1147px;top:502px;width:15px;height:16px"></div>
<div class="c d" style="left:1162px;top:502px;width:15px;height:16px"></div>

<!-- چند رشته -->
<div class="c d s" style="left:1048px;top:548px;width:69px;height:87px">شستا<br>-0.16%</div>
<div class="c g2 s" style="left:1117px;top:548px;width:60px;height:87px">وكغدير<br>1.28%</div>
<div class="c d" style="left:1048px;top:635px;width:69px;height:48px">وغدير</div>
<div class="c d m" style="left:1117px;top:635px;width:28px;height:27px">...و</div>
<div class="c g1 m" style="left:1145px;top:635px;width:32px;height:27px">...وا</div>
<div class="c g1" style="left:1117px;top:662px;width:28px;height:21px"></div>
<div class="c d m" style="left:1145px;top:662px;width:32px;height:21px">...و</div>

<!-- عرضه برق -->
<div class="c g3 s" style="left:1179px;top:340px;width:58px;height:85px">بپاس<br>2.25%</div>
<div class="c d m" style="left:1179px;top:425px;width:58px;height:28px">دماوند</div>
<div class="c g5 m" style="left:1237px;top:340px;width:32px;height:46px">...بزا</div>
<div class="c g1" style="left:1269px;top:340px;width:24px;height:46px"></div>
<div class="c d m" style="left:1237px;top:386px;width:32px;height:27px">...م</div>
<div class="c d" style="left:1269px;top:386px;width:24px;height:27px"></div>
<div class="c d" style="left:1237px;top:413px;width:32px;height:20px"></div>
<div class="c r1" style="left:1269px;top:413px;width:12px;height:20px"></div>
<div class="c d" style="left:1281px;top:413px;width:12px;height:20px"></div>
<div class="c d" style="left:1237px;top:433px;width:32px;height:20px"></div>
<div class="c d" style="left:1269px;top:433px;width:12px;height:20px"></div>
<div class="c r2" style="left:1281px;top:433px;width:12px;height:20px"></div>

<!-- ساخت محصولات -->
<div class="c d" style="left:1179px;top:473px;width:53px;height:54px">فاذر</div>
<div class="c g5" style="left:1179px;top:527px;width:53px;height:42px">فجام</div>
<div class="c g1" style="left:1232px;top:473px;width:61px;height:37px">فاراك</div>
<div class="c g5 m" style="left:1232px;top:510px;width:36px;height:59px">...فلا</div>
<div class="c d m" style="left:1268px;top:510px;width:25px;height:59px">...ج</div>

<!-- فعاليتهاي كمكي -->
<div class="c d m" style="left:1179px;top:590px;width:57px;height:47px">فرابورس</div>
<div class="c r1" style="left:1236px;top:590px;width:57px;height:47px">كالا</div>
<div class="c d" style="left:1179px;top:637px;width:57px;height:46px">انرژي</div>
<div class="c d" style="left:1236px;top:637px;width:25px;height:46px"></div>
<div class="c r1" style="left:1261px;top:637px;width:32px;height:15px"></div>
<div class="c d" style="left:1261px;top:652px;width:16px;height:16px"></div>
<div class="c d" style="left:1277px;top:652px;width:16px;height:16px"></div>
<div class="c g1" style="left:1261px;top:668px;width:12px;height:15px"></div>
<div class="c r1" style="left:1273px;top:668px;width:10px;height:15px"></div>
<div class="c g1" style="left:1283px;top:668px;width:10px;height:15px"></div>

<!-- هتل -->
<div class="c g3" style="left:1294px;top:340px;width:65px;height:50px">سمگا</div>
<div class="c g2" style="left:1294px;top:390px;width:65px;height:47px">گدنا</div>
<div class="c g2 m" style="left:1359px;top:340px;width:32px;height:83px">...گك</div>
<div class="c g2" style="left:1359px;top:423px;width:32px;height:14px"></div>

<!-- ساير واسطه -->
<div class="c r4 m" style="left:1294px;top:457px;width:35px;height:33px">...ول</div>
<div class="c g5 m" style="left:1294px;top:490px;width:35px;height:36px">...وليا</div>
<div class="c g3 m" style="left:1329px;top:457px;width:31px;height:33px">...و</div>
<div class="c g3 m" style="left:1360px;top:457px;width:31px;height:33px">...و</div>
<div class="c g2" style="left:1329px;top:490px;width:20px;height:36px"></div>
<div class="c g5" style="left:1349px;top:490px;width:12px;height:36px"></div>
<div class="c g1" style="left:1361px;top:490px;width:30px;height:18px"></div>
<div class="c d" style="left:1361px;top:508px;width:30px;height:18px"></div>

<!-- توليد محصولا -->
<div class="c g1 s" style="left:1294px;top:547px;width:61px;height:58px">سيكا<br>3.41%</div>
<div class="c g1 m" style="left:1355px;top:547px;width:36px;height:58px">...ما</div>

<!-- قند و شكر -->
<div class="c d m" style="left:1294px;top:626px;width:36px;height:30px">قشير</div>
<div class="c d m" style="left:1330px;top:626px;width:31px;height:30px">قجار</div>
<div class="c d" style="left:1361px;top:626px;width:30px;height:15px"></div>
<div class="c r1" style="left:1361px;top:641px;width:15px;height:15px"></div>
<div class="c d" style="left:1376px;top:641px;width:15px;height:15px"></div>
<div class="c g2 m" style="left:1294px;top:656px;width:36px;height:27px">...قتا</div>
<div class="c d m" style="left:1330px;top:656px;width:31px;height:27px">...ق</div>
<div class="c r1" style="left:1361px;top:656px;width:15px;height:27px"></div>
<div class="c r2" style="left:1376px;top:656px;width:15px;height:27px"></div>

<!-- ماشين آلات 2 -->
<div class="c r1" style="left:1393px;top:340px;width:46px;height:33px">تكنو</div>
<div class="c r1" style="left:1439px;top:340px;width:41px;height:33px">گلديرا</div>
<div class="c g1 m" style="left:1393px;top:373px;width:44px;height:37px">...لبو</div>
<div class="c g1 m" style="left:1393px;top:410px;width:44px;height:27px">...ان</div>
<div class="c g2" style="left:1437px;top:373px;width:22px;height:30px"></div>
<div class="c r3" style="left:1459px;top:373px;width:21px;height:30px"></div>
<div class="c d" style="left:1437px;top:403px;width:22px;height:17px"></div>
<div class="c g4" style="left:1459px;top:403px;width:21px;height:14px"></div>
<div class="c g1" style="left:1437px;top:420px;width:22px;height:17px"></div>
<div class="c r2" style="left:1459px;top:417px;width:21px;height:20px"></div>

<!-- مخابرات -->
<div class="c d s" style="left:1483px;top:340px;width:81px;height:57px">اخابر<br>-0.69%</div>
<div class="c r3" style="left:1483px;top:397px;width:81px;height:40px">همراه</div>

<!-- لاستيك -->
<div class="c g5" style="left:1391px;top:457px;width:40px;height:28px">پارتا</div>
<div class="c g1" style="left:1431px;top:457px;width:25px;height:28px"></div>
<div class="c d" style="left:1456px;top:457px;width:21px;height:28px"></div>
<div class="c g1" style="left:1391px;top:485px;width:40px;height:24px"></div>
<div class="c r1" style="left:1431px;top:485px;width:12px;height:24px"></div>
<div class="c g1" style="left:1443px;top:485px;width:12px;height:24px"></div>
<div class="c g1" style="left:1455px;top:485px;width:11px;height:24px"></div>
<div class="c d" style="left:1466px;top:485px;width:11px;height:24px"></div>

<!-- استخراج زغال -->
<div class="c d m" style="left:1477px;top:457px;width:30px;height:52px">...ك</div>
<div class="c g5" style="left:1507px;top:457px;width:44px;height:27px">كپرور</div>
<div class="c g1" style="left:1551px;top:457px;width:13px;height:52px"></div>
<div class="c d" style="left:1507px;top:484px;width:44px;height:25px">كطبس</div>

<!-- محصولات -->
<div class="c g5" style="left:1391px;top:531px;width:39px;height:38px">چكاوه</div>
<div class="c g3 m" style="left:1430px;top:531px;width:26px;height:38px">...ج</div>
<div class="c d" style="left:1456px;top:531px;width:21px;height:38px"></div>
<div class="c r2" style="left:1430px;top:569px;width:47px;height:8px"></div>
<div class="c g1" style="left:1391px;top:569px;width:39px;height:8px"></div>

<!-- اطلاعات -->
<div class="c g1 m" style="left:1479px;top:531px;width:41px;height:46px">... هاي</div>
<div class="c g1" style="left:1520px;top:531px;width:44px;height:24px">اسپاتك</div>
<div class="c g1" style="left:1520px;top:555px;width:29px;height:22px"></div>
<div class="c g1" style="left:1549px;top:555px;width:15px;height:22px"></div>

<!-- كاشي / پيم / خ -->
<div class="c d" style="left:1391px;top:600px;width:48px;height:32px">كترام</div>
<div class="c g3" style="left:1439px;top:600px;width:17px;height:17px"></div>
<div class="c g1" style="left:1456px;top:600px;width:12px;height:17px"></div>
<div class="c d" style="left:1439px;top:617px;width:17px;height:15px"></div>
<div class="c d" style="left:1456px;top:617px;width:12px;height:15px"></div>
<div class="c r4" style="left:1470px;top:600px;width:48px;height:32px">بالاس</div>
<div class="c g1" style="left:1520px;top:600px;width:44px;height:35px">رمينا</div>
<div class="c d" style="left:1520px;top:635px;width:44px;height:8px"></div>
<div class="c d" style="left:1470px;top:632px;width:48px;height:12px"></div>

<!-- استخراج / مح -->
<div class="c d" style="left:1391px;top:654px;width:57px;height:29px">كماسه</div>
<div class="c r2" style="left:1448px;top:654px;width:20px;height:29px"></div>
<div class="c r1" style="left:1470px;top:665px;width:34px;height:18px"></div>
<div class="c g1" style="left:1504px;top:665px;width:19px;height:18px"></div>
<div class="c w" style="left:1523px;top:643px;width:19px;height:40px"></div>
<div class="c w" style="left:1542px;top:643px;width:22px;height:40px"></div>
<div class="c r1" style="left:1524px;top:672px;width:17px;height:10px"></div>
<div class="c r3" style="left:1543px;top:662px;width:20px;height:3px;border:0"></div>
</body></html>
